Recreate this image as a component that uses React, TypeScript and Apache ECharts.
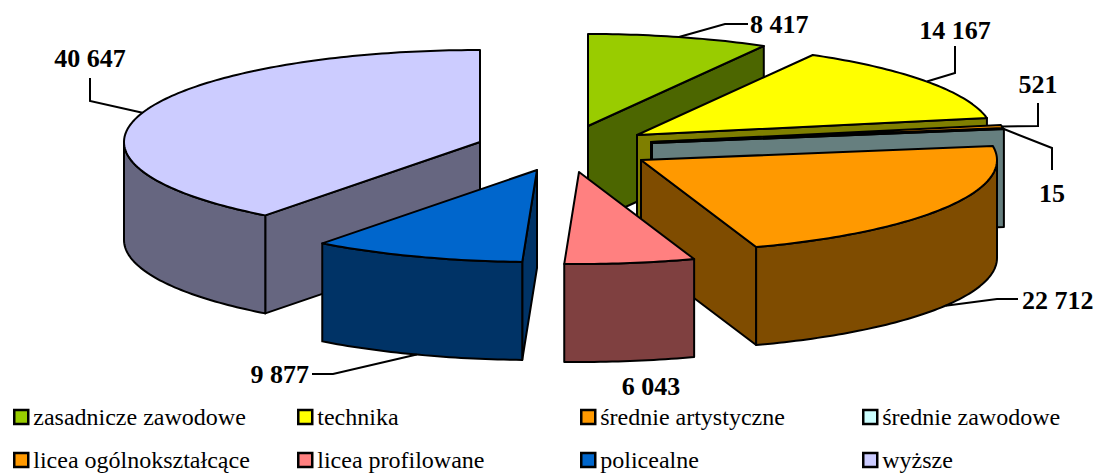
import React, { useEffect, useRef } from "react";
import * as echarts from "echarts";

const categories = [
  "zasadnicze zawodowe",
  "technika",
  "średnie artystyczne",
  "średnie zawodowe",
  "licea ogólnokształcące",
  "licea profilowane",
  "policealne",
  "wyższe",
];
const values = [8417, 14167, 521, 15, 22712, 6043, 9877, 40647];
const topColors = ["#99CC00", "#FFFF00", "#FF9900", "#CCFFFF", "#FF9900", "#FF8080", "#0066CC", "#CCCCFF"];
const wallColors = ["#4C6600", "#7F7F00", "#7F4C00", "#667F7F", "#7F4C00", "#7F4040", "#003366", "#666680"];

// layout of the exploded pie (pixels)
const apexX = [588, 637, 651, 652, 641, 579, 537, 480];
const apexY = [126, 135, 142, 143, 160, 172, 170, 142];
const drawRank = [2, 3, 4, 5, 6, 8, 7, 1];
const RX = 356;
const RY_BACK = 92;
const RY_FRONT = 92;
const DEPTH = 98;

// leader line bend, leader line end, label position and alignment
const leaderBend: (number[] | null)[] = [[725, 24], [955, 73], [1038, 126], [1052, 148], [997, 299], null, [333, 374], [90, 101]];
const leaderEnd: (number[] | null)[] = [[748, 24], [955, 46], [1038, 103], [1052, 170], [1018, 299], null, [312, 374], [90, 78]];
const labelX = [750, 955, 1038, 1052, 1022, 651, 309, 90];
const labelY = [24, 30, 84, 193, 300, 386, 374, 58];
const labelAlign = ["left", "center", "center", "center", "left", "center", "right", "center"];

const legendLeft = [13, 297, 580, 862];
const legendTop = [405, 448];

const total = values.reduce((a, b) => a + b, 0);
const startDeg = values.map((_, i) => (values.slice(0, i).reduce((a, b) => a + b, 0) / total) * 360);
const formatValue = (v: number) => String(v).replace(/\B(?=(\d{3})+$)/g, " ");

function point(i: number, deg: number, drop = 0): number[] {
  const r = (deg * Math.PI) / 180;
  const c = Math.cos(r);
  return [apexX[i] + RX * Math.sin(r), apexY[i] - (c > 0 ? RY_BACK : RY_FRONT) * c + drop];
}
function arc(i: number, from: number, to: number, drop = 0): number[][] {
  const n = Math.max(1, Math.ceil(Math.abs(to - from)));
  const pts: number[][] = [];
  for (let k = 0; k <= n; k++) pts.push(point(i, from + ((to - from) * k) / n, drop));
  return pts;
}

const LINE = { stroke: "#000", lineWidth: 2, lineJoin: "round" as const };

function makeRenderItem(i: number) {
  return (_params: any, api: any) => {
    const value = api.value(0);
    const a0 = startDeg[i];
    const a1 = a0 + (value / total) * 360;
    const apex = [apexX[i], apexY[i]];
    const apexLow = [apexX[i], apexY[i] + DEPTH];
    const wall = { ...LINE, fill: wallColors[i] };
    const children: any[] = [];
    const face = (deg: number) => ({
      type: "polygon",
      shape: { points: [apex, point(i, deg), point(i, deg, DEPTH), apexLow] },
      style: wall,
    });
    if (a0 > 180) children.push(face(a0));
    if (a1 < 180) children.push(face(a1));
    const w0 = Math.max(a0, 90);
    const w1 = Math.min(a1, 270);
    if (w1 > w0) {
      children.push({
        type: "polygon",
        shape: { points: [...arc(i, w0, w1), ...arc(i, w1, w0, DEPTH)] },
        style: wall,
      });
    }
    children.push({
      type: "polygon",
      shape: { points: [apex, ...arc(i, a0, a1)] },
      style: { ...LINE, fill: topColors[i] },
    });
    const mid = (a0 + a1) / 2;
    const front = mid > 90 && mid < 270;
    const bend = leaderBend[i];
    const end = leaderEnd[i];
    if (bend && end) {
      children.push({
        type: "polyline",
        shape: { points: [point(i, mid, front ? DEPTH : 0), bend, end] },
        style: { stroke: "#000", lineWidth: 2, fill: "none" },
      });
    }
    children.push({
      type: "text",
      style: {
        text: formatValue(value),
        x: labelX[i],
        y: labelY[i],
        fill: "#000",
        font: 'bold 26px "Liberation Serif"',
        textAlign: labelAlign[i],
        textVerticalAlign: "middle",
      },
    });
    return { type: "group", children };
  };
}

export default function App() {
  const ref = useRef<HTMLDivElement>(null);
  useEffect(() => {
    const chart = echarts.init(ref.current!, undefined, { renderer: "svg" });
    chart.setOption({
      animation: false,
      backgroundColor: "#fff",
      legend: categories.map((name, i) => ({
        data: [name],
        left: legendLeft[i % 4],
        top: legendTop[Math.floor(i / 4)],
        padding: 0,
        icon: "rect",
        itemWidth: 14,
        itemHeight: 14,
        selectedMode: false,
        itemStyle: { borderColor: "#000", borderWidth: 2.5 },
        textStyle: { color: "#000", fontFamily: "Liberation Serif", fontSize: 24 },
      })),
      series: categories.map((name, i) => ({
        type: "custom",
        name,
        coordinateSystem: "none",
        silent: true,
        z: drawRank[i],
        itemStyle: { color: topColors[i] },
        data: [[values[i]]],
        encode: { value: 0 },
        renderItem: makeRenderItem(i),
      })),
    });
    return () => chart.dispose();
  }, []);
  return <div ref={ref} style={{ position: "absolute", left: 0, top: 0, width: 1098, height: 474 }} />;
}
